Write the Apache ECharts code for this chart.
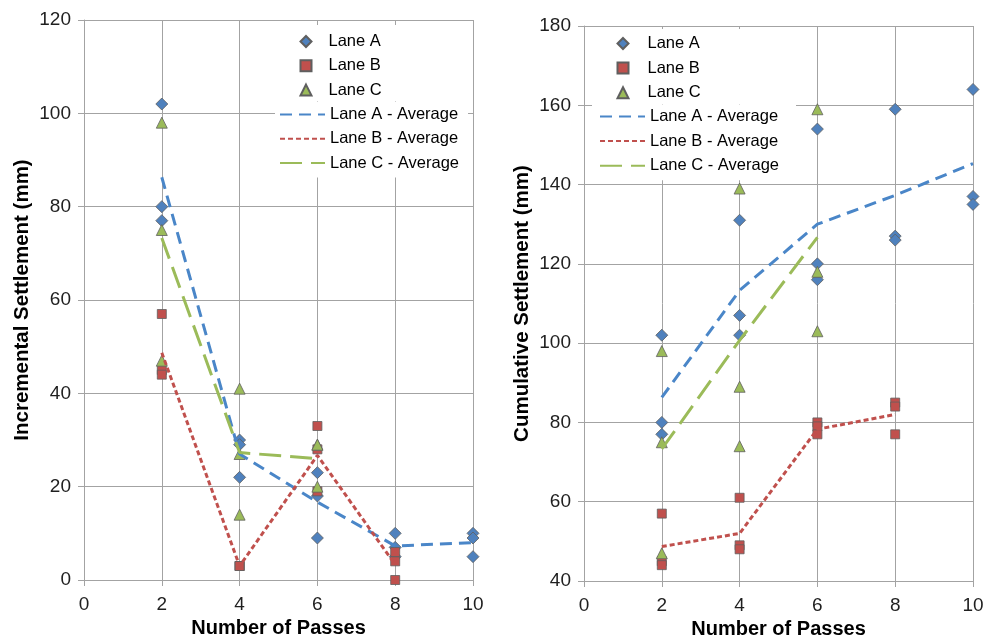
<!DOCTYPE html>
<html>
<head>
<meta charset="utf-8">
<script src="https://cdn.jsdelivr.net/npm/echarts@6/dist/echarts.min.js"></script>
<style>
html,body{margin:0;padding:0;background:#fff;}
#chart{width:988px;height:639px;}
</style>
</head>
<body>
<div id="chart"></div>
<script>
// ---------- data ----------
const xTicks = [0, 2, 4, 6, 8, 10];
const pointNames = ['Lane A', 'Lane B', 'Lane C'];
const avgNames = ['Lane A - Average', 'Lane B - Average', 'Lane C - Average'];

// Incremental settlement (mm) : [passes, value]
const incLaneA = [[2,102],[2,80],[2,77],[4,30],[4,29],[4,22],[6,23],[6,18],[6,9],[8,10],[8,7],[8,5],[10,10],[10,9],[10,5]];
const incLaneB = [[2,57],[2,45],[2,44],[4,3],[4,3],[4,3],[6,33],[6,28],[6,19],[8,6],[8,4],[8,0]];
const incLaneC = [[2,98],[2,75],[2,47],[4,41],[4,27],[4,14],[6,29],[6,29],[6,20]];
const incAvgA = [[2,86.3],[4,27],[6,16.7],[8,7.3],[10,8]];
const incAvgB = [[2,48.7],[4,3],[6,26.7],[8,3.3]];
const incAvgC = [[2,73.3],[4,27.3],[6,26]];

// Cumulative settlement (mm) : [passes, value]
const cumLaneA = [[2,102],[2,80],[2,77],[4,131],[4,107],[4,102],[6,154],[6,120],[6,116],[8,159],[8,127],[8,126],[10,164],[10,137],[10,135]];
const cumLaneB = [[2,57],[2,45],[2,44],[4,61],[4,49],[4,48],[6,80],[6,79],[6,77],[8,85],[8,84],[8,77]];
const cumLaneC = [[2,98],[2,75],[2,47],[4,139],[4,89],[4,74],[6,159],[6,118],[6,103]];
const cumAvgA = [[2,86.3],[4,113.3],[6,130],[8,137.3],[10,145.3]];
const cumAvgB = [[2,48.7],[4,52],[6,78.3],[8,82]];
const cumAvgC = [[2,73.3],[4,100.7],[6,126.7]];

// ---------- style ----------
const FONT = "'Liberation Sans', Arial, sans-serif";
const GRIDC = '#a3a3a3';
const TXT = '#1f1f1f';
const colA = '#4F81BD', colB = '#C0504D', colC = '#9BBB59';
const lineA = '#4A86C8';

function xAx(gi) {
  return {
    type: 'value', gridIndex: gi, min: 0, max: 10, interval: 2,
    axisLine: {show: true, lineStyle: {color: GRIDC, width: 1}},
    axisTick: {show: true, length: 6, lineStyle: {color: GRIDC}},
    splitLine: {show: true, lineStyle: {color: GRIDC, width: 1}},
    axisLabel: {color: TXT, fontFamily: FONT, fontSize: 19, margin: 15},
    name: 'Number of Passes', nameLocation: 'middle', nameGap: gi === 0 ? 27 : 35,
    nameTextStyle: {color: '#000', fontFamily: FONT, fontSize: 20, fontWeight: 'bold'}
  };
}
function yAx(gi, min, max, title) {
  return {
    type: 'value', gridIndex: gi, min: min, max: max, interval: 20,
    axisLine: {show: true, lineStyle: {color: GRIDC, width: 1}},
    axisTick: {show: true, length: 6, lineStyle: {color: GRIDC}},
    splitLine: {show: true, lineStyle: {color: GRIDC, width: 1}},
    axisLabel: {color: TXT, fontFamily: FONT, fontSize: 19, margin: 13},
    name: title, nameLocation: 'middle', nameGap: 51,
    nameTextStyle: {color: '#000', fontFamily: FONT, fontSize: 20.5, fontWeight: 'bold'}
  };
}
function scat(name, gi, data, symbol, size, color) {
  return {
    name: name, type: 'scatter', xAxisIndex: gi, yAxisIndex: gi,
    data: data, symbol: symbol, symbolSize: size,
    itemStyle: {color: color, borderColor: '#5f5f5f', borderWidth: 0.8, opacity: 1},
    emphasis: {disabled: true}, z: 3
  };
}
function avg(name, gi, data, color, dash) {
  return {
    name: name, type: 'line', xAxisIndex: gi, yAxisIndex: gi,
    data: data, showSymbol: false, symbol: 'none',
    lineStyle: {color: color, width: 3, type: dash},
    itemStyle: {color: color},
    emphasis: {disabled: true}, z: 4, animation: false
  };
}
function legPts(left, top, padding, gap, textPad) {
  return {
    data: pointNames, orient: 'vertical', align: 'left',
    left: left, top: top, padding: padding, itemGap: gap,
    itemWidth: 11, itemHeight: 11,
    backgroundColor: '#ffffff',
    textStyle: {color: '#000', fontFamily: FONT, fontSize: 16.5, padding: [0, 0, 0, textPad]},
    selectedMode: false
  };
}
function legAvg(left, top, padding, gap) {
  return {
    data: avgNames, orient: 'vertical', align: 'left',
    left: left, top: top, padding: padding, itemGap: gap,
    itemWidth: 45, itemHeight: 11,
    backgroundColor: '#ffffff',
    itemStyle: {opacity: 0},
    textStyle: {color: '#000', fontFamily: FONT, fontSize: 16.5},
    selectedMode: false
  };
}

const dashA = [12, 7], dashB = [5, 3], dashC = [22, 9];

const option = {
  animation: false,
  backgroundColor: '#ffffff',
  grid: [
    {left: 84, right: 515, top: 20, bottom: 59, outerBoundsMode: 'none', containLabel: false},
    {left: 584, right: 15, top: 26, bottom: 58, outerBoundsMode: 'none', containLabel: false}
  ],
  xAxis: [xAx(0), xAx(1)],
  yAxis: [
    yAx(0, 0, 120, 'Incremental Settlement (mm)'),
    yAx(1, 40, 180, 'Cumulative Settlement (mm)')
  ],
  legend: [
    legPts(275, 25, [8, 80, 3, 24.5], 7.3, 12),
    legAvg(275, 101.9, [4.1, 9, 6, 4], 7.3),
    legPts(592, 29, [6, 88, 3, 24.5], 7.6, 14),
    legAvg(592, 104.5, [3.5, 17, 6, 7], 7.6)
  ],
  series: [
    scat(pointNames[0], 0, incLaneA, 'diamond', 12, colA),
    scat(pointNames[1], 0, incLaneB, 'rect', 9, colB),
    scat(pointNames[2], 0, incLaneC, 'triangle', 11, colC),
    avg(avgNames[0], 0, incAvgA, lineA, dashA),
    avg(avgNames[1], 0, incAvgB, colB, dashB),
    avg(avgNames[2], 0, incAvgC, colC, dashC),
    scat(pointNames[0], 1, cumLaneA, 'diamond', 12, colA),
    scat(pointNames[1], 1, cumLaneB, 'rect', 9, colB),
    scat(pointNames[2], 1, cumLaneC, 'triangle', 11, colC),
    avg(avgNames[0], 1, cumAvgA, lineA, dashA),
    avg(avgNames[1], 1, cumAvgB, colB, dashB),
    avg(avgNames[2], 1, cumAvgC, colC, dashC)
  ]
};

const chart = echarts.init(document.getElementById('chart'), null, {renderer: 'canvas'});
chart.setOption(option);
</script>
</body>
</html>
